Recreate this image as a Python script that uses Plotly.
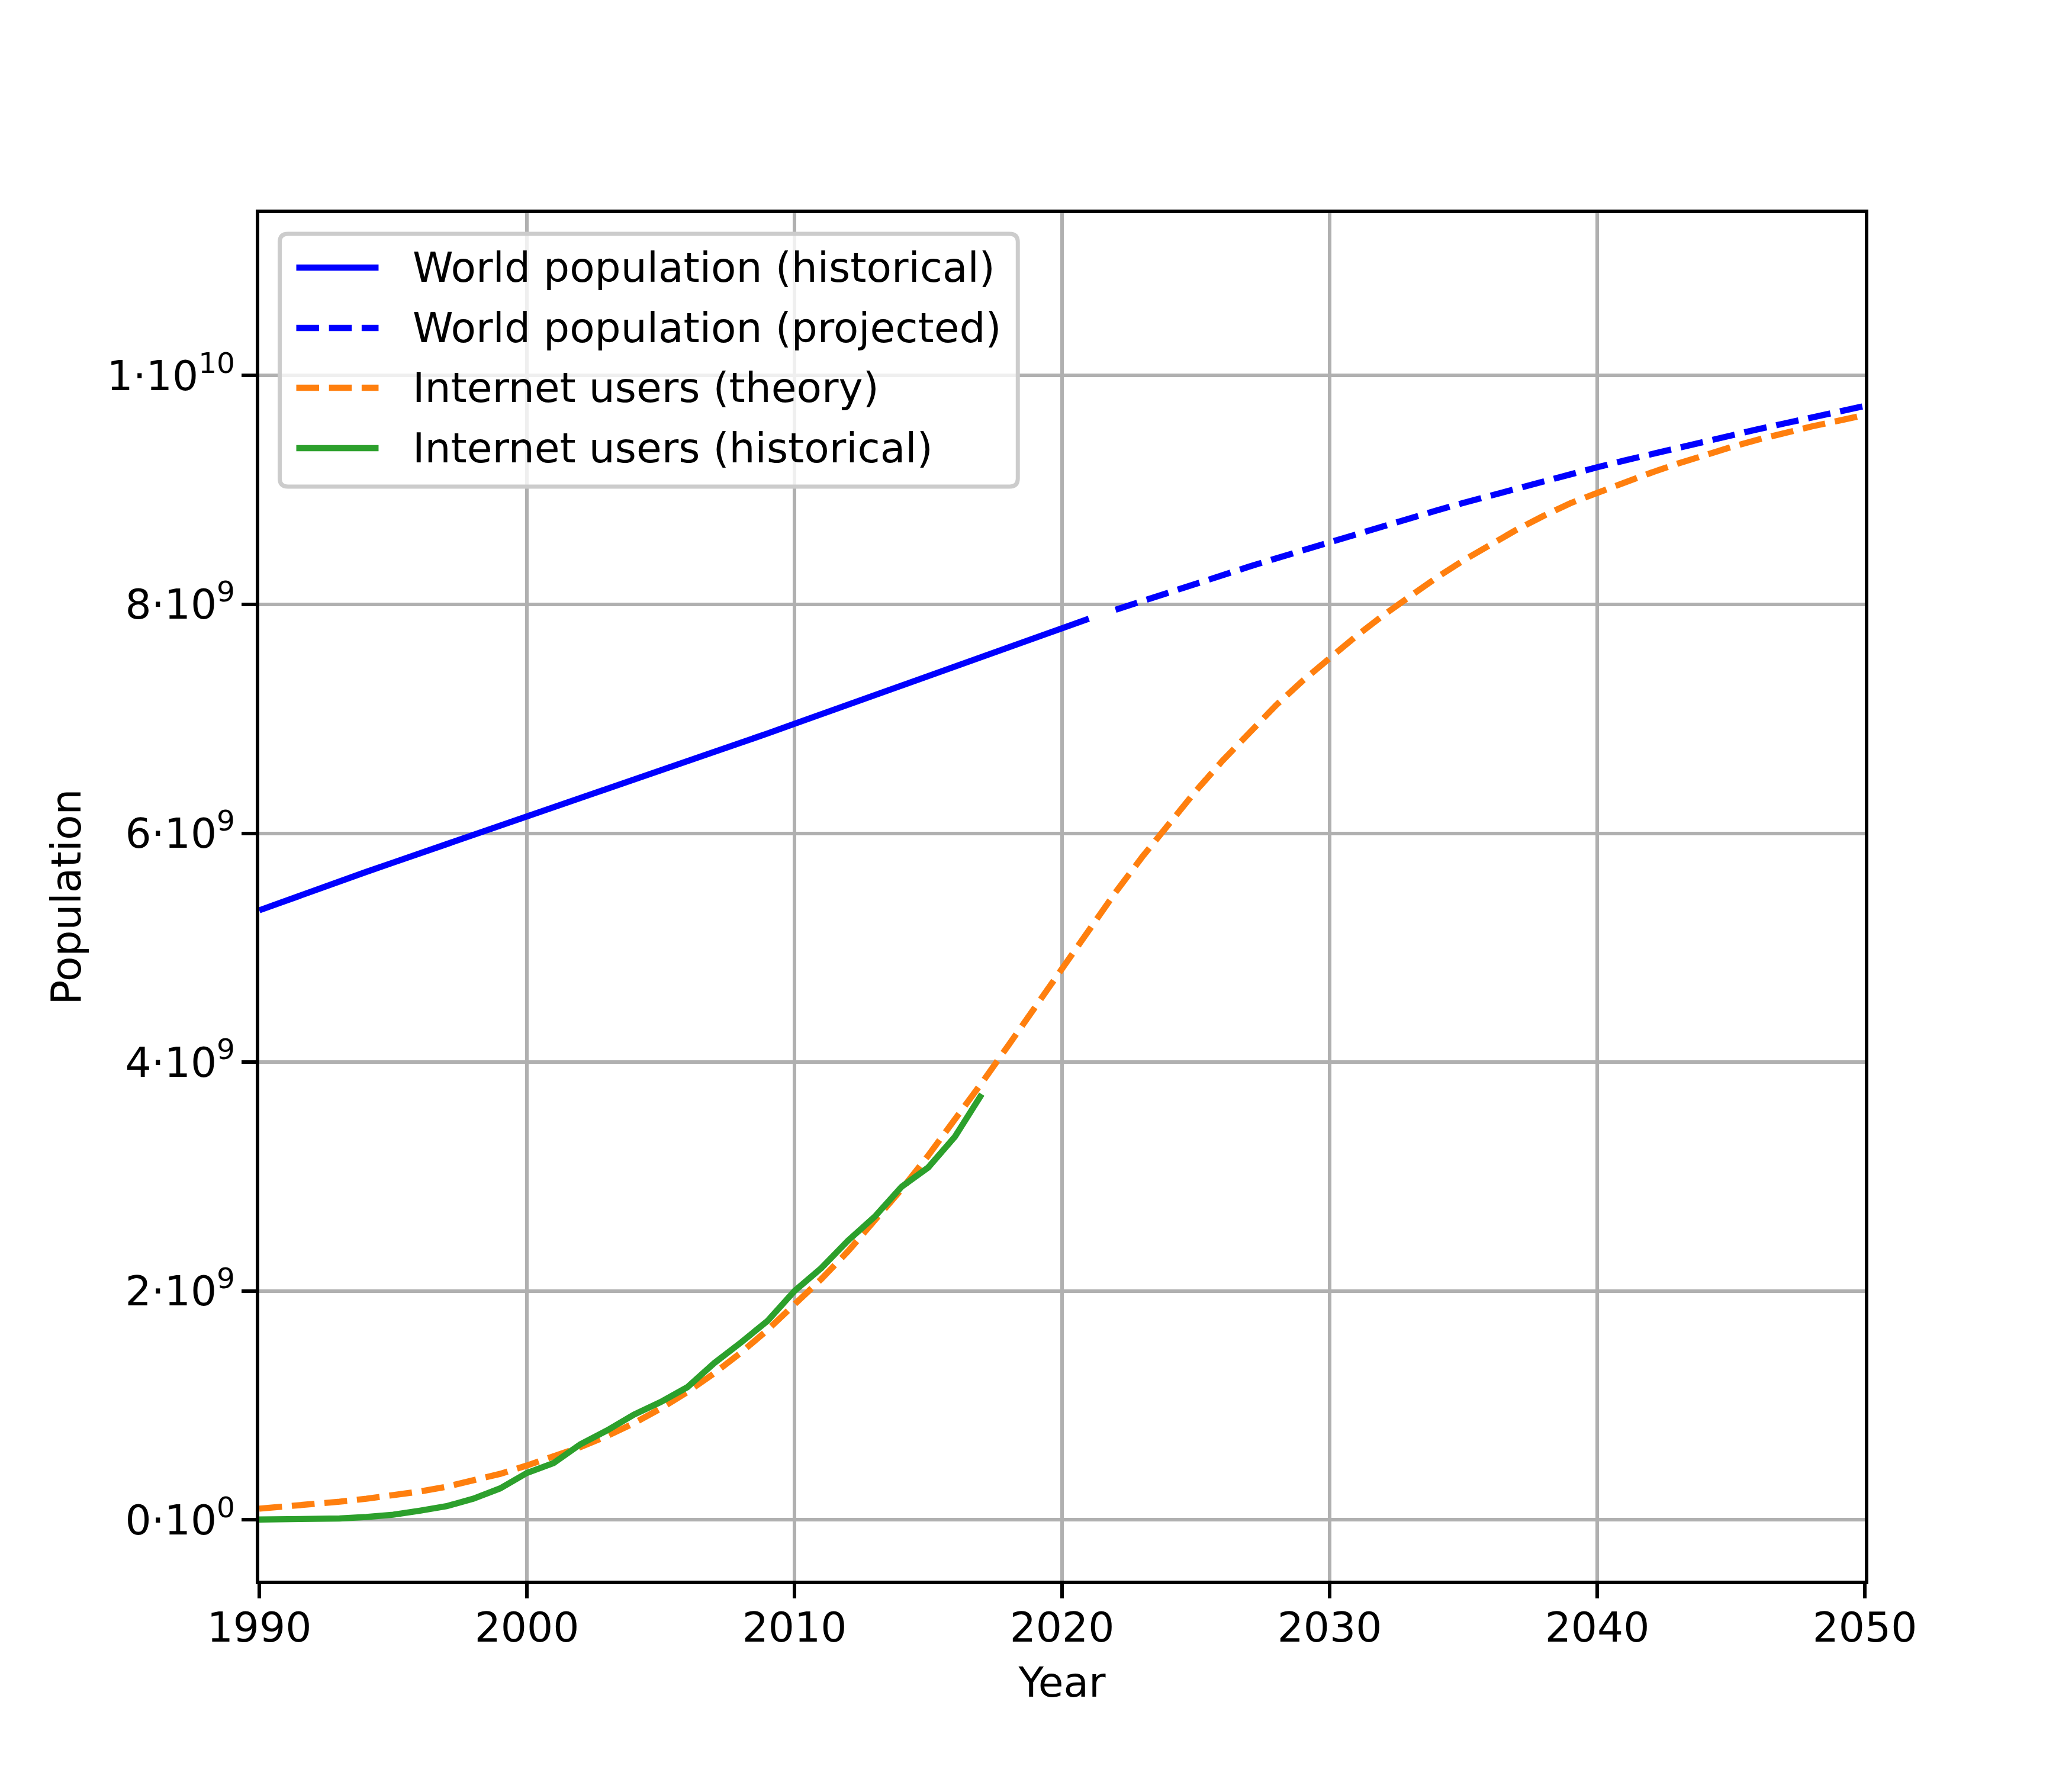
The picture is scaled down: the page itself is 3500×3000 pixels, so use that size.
import plotly.graph_objects as go

# ---------------- data ----------------
pop_hist_years = list(range(1990, 2022))
pop_hist = [5.327, 5.414, 5.498, 5.581, 5.663, 5.744, 5.824, 5.904, 5.983, 6.062,
            6.143, 6.222, 6.302, 6.383, 6.464, 6.545, 6.626, 6.708, 6.790, 6.873,
            6.957, 7.041, 7.126, 7.211, 7.296, 7.380, 7.464, 7.548, 7.631, 7.713,
            7.795, 7.875]

pop_proj_years = list(range(2022, 2051)) + [2060, 2070, 2080, 2090, 2100]
pop_proj = [7.954, 8.032, 8.109, 8.184, 8.258, 8.331, 8.403, 8.475, 8.548,
            8.618, 8.687, 8.755, 8.822, 8.888, 8.952, 9.015, 9.077, 9.138, 9.199,
            9.257, 9.314, 9.370, 9.425, 9.479, 9.531, 9.582, 9.632, 9.681, 9.735,
            10.15, 10.46, 10.67, 10.81, 10.87]

theory_years = list(range(1990, 2051))
theory = [0.098, 0.116, 0.136, 0.159, 0.185, 0.214, 0.248, 0.290, 0.340, 0.402,
          0.475, 0.551, 0.636, 0.733, 0.845, 0.973, 1.118, 1.281, 1.462, 1.661,
          1.878, 2.104, 2.347, 2.608, 2.888, 3.185, 3.497, 3.819, 4.149, 4.483,
          4.820, 5.160, 5.485, 5.795, 6.090, 6.370, 6.635, 6.885, 7.120, 7.335,
          7.535, 7.725, 7.905, 8.075, 8.235, 8.385, 8.525, 8.655, 8.775, 8.885,
          8.975, 9.065, 9.150, 9.230, 9.305, 9.375, 9.440, 9.500, 9.555, 9.605,
          9.655]

net_hist_years = list(range(1990, 2018))
net_hist = [0.003, 0.004, 0.007, 0.012, 0.025, 0.045, 0.080, 0.120, 0.185, 0.275,
            0.410, 0.497, 0.661, 0.782, 0.920, 1.030, 1.160, 1.370, 1.550, 1.740,
            2.000, 2.200, 2.440, 2.650, 2.910, 3.080, 3.350, 3.720]

series_names = ["World population (historical)", "World population (projected)",
                "Internet users (theory)", "Internet users (historical)"]
series_colors = ["#0000ff", "#0000ff", "#ff7f0e", "#2ca02c"]
series_dash = ["solid", "dash", "dash", "solid"]

x_ticks = [1990, 2000, 2010, 2020, 2030, 2040, 2050]
y_ticks = [0, 2e9, 4e9, 6e9, 8e9, 1e10]
y_tick_text = ["0·10<sup>0</sup>", "2·10<sup>9</sup>", "4·10<sup>9</sup>",
               "6·10<sup>9</sup>", "8·10<sup>9</sup>", "1·10<sup>10</sup>"]

# ---------------- style ----------------
OFF = 8                    # page body margin offset of the figure div
W, H = 3500 - 2 * OFF, 3000 - 2 * OFF
PT = 500 / 72.0           # one point in pixels
FS = 10 * PT              # font size
LW = 1.5 * PT             # line width
DASH = f"{3.7 * LW:.1f}px,{1.6 * LW:.1f}px"
FONT = "DejaVu Sans"

# axes box in screen px, converted to figure px
L, R, T, B = 437.5 - OFF, 3150.0 - OFF, 360.0 - OFF, 2670.0 - OFF
PW, PH = R - L, B - T


def dash_of(d):
    return DASH if d == "dash" else "solid"


fig = go.Figure()
xs = [pop_hist_years, pop_proj_years, theory_years, net_hist_years]
ys = [pop_hist, pop_proj, theory, net_hist]
for name, xv, yv, c, d in zip(series_names, xs, ys, series_colors, series_dash):
    fig.add_trace(go.Scatter(x=xv, y=[v * 1e9 for v in yv], mode="lines", name=name,
                             line=dict(color=c, width=LW, dash=dash_of(d)),
                             showlegend=False))

axis_common = dict(showline=True, linecolor="black", linewidth=0.8 * PT, mirror=True,
                   ticks="outside", ticklen=3.5 * PT, tickwidth=0.8 * PT, tickcolor="black",
                   showgrid=True, gridcolor="#b0b0b0", gridwidth=0.8 * PT, zeroline=False,
                   tickfont=dict(family=FONT, size=FS, color="black"))

fig.update_xaxes(range=[1990, 2050], tickvals=x_ticks, ticktext=[str(v) for v in x_ticks],
                 ticklabelstandoff=-10,
                 title=dict(text="Year", font=dict(family=FONT, size=FS, color="black"),
                            standoff=31), **axis_common)
fig.update_yaxes(range=[-0.531e9, 11.42e9], tickvals=y_ticks, ticktext=y_tick_text,
                 ticklabelstandoff=-3,
                 title=dict(text="Population", font=dict(family=FONT, size=FS, color="black"),
                            standoff=23), **axis_common)

# ---------------- legend (matplotlib-style, long handles) ----------------
def px2x(X):
    return (X - OFF - L) / PW


def px2y(Y):
    return 1 - (Y - OFF - T) / PH


fx0, fx1, fy0, fy1 = 472, 1719, 395, 822
rad = 14
rx, ry = rad / PW, rad / PH
a, b_, c_, d_ = px2x(fx0), px2x(fx1), px2y(fy0), px2y(fy1)
path = (f"M{a + rx},{c_} L{b_ - rx},{c_} Q{b_},{c_} {b_},{c_ - ry} "
        f"L{b_},{d_ + ry} Q{b_},{d_} {b_ - rx},{d_} L{a + rx},{d_} "
        f"Q{a},{d_} {a},{d_ + ry} L{a},{c_ - ry} Q{a},{c_} {a + rx},{c_} Z")
shapes = [dict(type="path", xref="paper", yref="paper", path=path,
               fillcolor="rgba(255,255,255,0.8)", line=dict(color="#cccccc", width=1.0 * PT),
               layer="above")]
annotations = []
row_y = [452, 554, 655, 757]
for name, c, d, ry_px in zip(series_names, series_colors, series_dash, row_y):
    shapes.append(dict(type="line", xref="paper", yref="paper",
                       x0=px2x(500), x1=px2x(639), y0=px2y(ry_px), y1=px2y(ry_px),
                       line=dict(color=c, width=LW, dash=dash_of(d)), layer="above"))
    annotations.append(dict(xref="paper", yref="paper", x=px2x(695), y=px2y(ry_px),
                            text=name, showarrow=False, xanchor="left", yanchor="middle",
                            font=dict(family=FONT, size=FS, color="black")))

fig.update_layout(width=W, height=H, autosize=False,
                  margin=dict(l=L, r=W - R, t=T, b=H - B, pad=0),
                  plot_bgcolor="white", paper_bgcolor="white",
                  font=dict(family=FONT, size=FS, color="black"),
                  shapes=shapes, annotations=annotations, showlegend=False)

fig.write_html("out.html")
